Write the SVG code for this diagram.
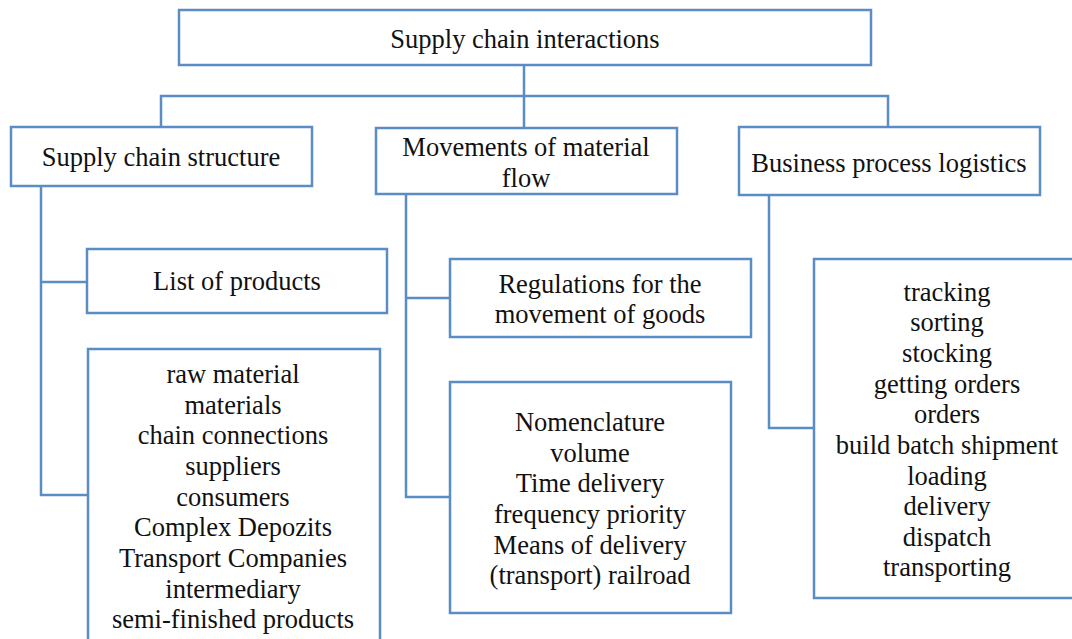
<svg xmlns="http://www.w3.org/2000/svg" width="1072" height="639" viewBox="0 0 1072 639">
<style>
.box{fill:#fff;stroke:#5b8dc5;stroke-width:2.5}
.ln{fill:none;stroke:#5b8dc5;stroke-width:2.5}
.t{font-family:'Liberation Serif','Times New Roman',Tinos,'DejaVu Serif',serif;font-size:26.5px;fill:#111;text-anchor:middle}
</style>
<rect width="1072" height="639" fill="#fff"/>
<g id="connectors">
<path class="ln" d="M524 65V128M161 127V96H888V127"/>
<path class="ln" d="M41 186V495H88M41 282H87"/>
<path class="ln" d="M406 194V497H450M406 298H450"/>
<path class="ln" d="M769 195V428H814"/>
</g>
<g class="t">
<g id="root"><rect class="box" x="179" y="10" width="692" height="55"/><text x="525" y="48">Supply chain interactions</text></g>
<g id="structure"><rect class="box" x="11" y="127" width="301" height="59"/><text x="161" y="166">Supply chain structure</text></g>
<g id="movements"><rect class="box" x="376" y="128" width="301" height="66"/><text x="526" y="156">Movements of material</text><text x="526" y="187">flow</text></g>
<g id="business"><rect class="box" x="739" y="127" width="301" height="68"/><text x="889" y="172">Business process logistics</text></g>
<g id="list"><rect class="box" x="87" y="249" width="300" height="64"/><text x="237" y="290">List of products</text></g>
<g id="items"><rect class="box" x="88" y="349" width="292" height="300"/>
<text x="233" y="383">raw material</text><text x="233" y="414">materials</text><text x="233" y="444">chain connections</text><text x="233" y="475">suppliers</text><text x="233" y="506">consumers</text><text x="233" y="536">Complex Depozits</text><text x="233" y="567">Transport Companies</text><text x="233" y="598">intermediary</text><text x="233" y="628">semi-finished products</text></g>
<g id="regulations"><rect class="box" x="450" y="259" width="301" height="78"/><text x="600" y="293">Regulations for the</text><text x="600" y="323">movement of goods</text></g>
<g id="nomenclature"><rect class="box" x="450" y="382" width="281" height="231"/>
<text x="590" y="431">Nomenclature</text><text x="590" y="462">volume</text><text x="590" y="492">Time delivery</text><text x="590" y="523">frequency priority</text><text x="590" y="554">Means of delivery</text><text x="590" y="584">(transport) railroad</text></g>
<g id="tracking"><rect class="box" x="814" y="259" width="270" height="339"/>
<text x="947" y="301">tracking</text><text x="947" y="331">sorting</text><text x="947" y="362">stocking</text><text x="947" y="393">getting orders</text><text x="947" y="423">orders</text><text x="947" y="454">build batch shipment</text><text x="947" y="485">loading</text><text x="947" y="515">delivery</text><text x="947" y="546">dispatch</text><text x="947" y="576">transporting</text></g>
</g>
</svg>
